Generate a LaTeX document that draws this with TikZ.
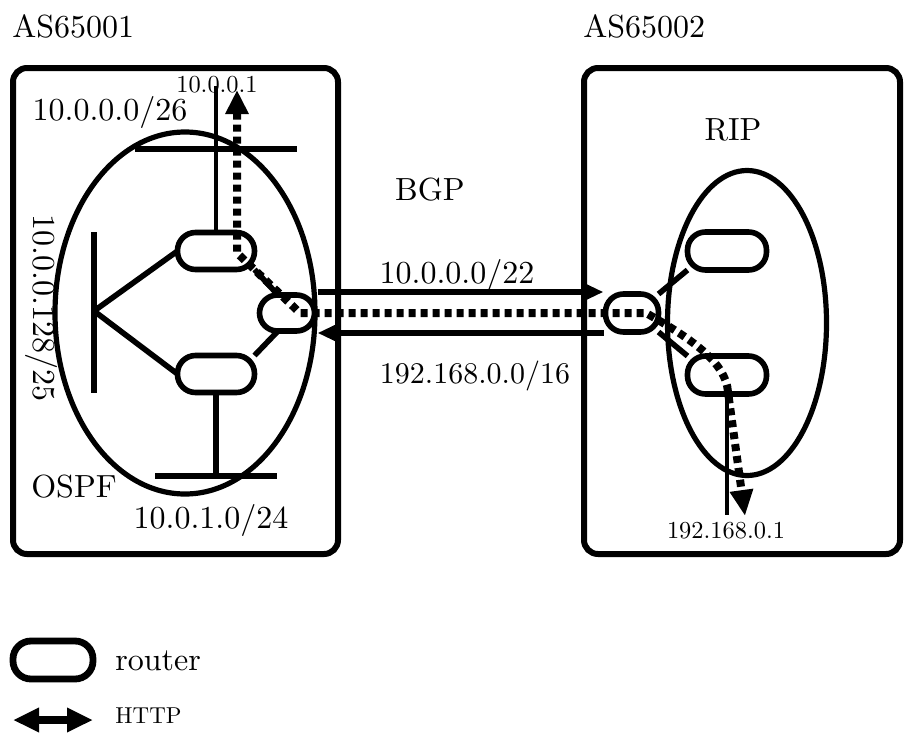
\documentclass[tikz,border=0pt]{standalone}
\usepackage{fontspec}
\setmainfont{lmroman10-regular.otf}
\usetikzlibrary{arrows.meta,calc,shapes.geometric}
\begin{document}
\begin{tikzpicture}[x=0.5pt,y=-0.5pt,
  asbox/.style={draw, line width=3pt, rounded corners=7pt},
  area/.style={draw, ellipse, line width=2.6pt, inner sep=0pt, outer sep=0pt},
  router/.style={draw, line width=2.8pt, rounded corners=9pt, inner sep=0pt, outer sep=0pt},
  bus/.style={line width=2.8pt},
  drop/.style={line width=1.8pt},
  bgp/.style={line width=2.6pt},
  http/.style={line width=4pt, dash pattern=on 3.5pt off 2.5pt},
  lbl/.style={font=\fontsize{16}{19}\selectfont, inner sep=0pt},
  sml/.style={font=\fontsize{12.2}{14}\selectfont, inner sep=0pt}]
\useasboundingbox (0,0) rectangle (904,734);

% AS boxes
\draw[asbox] (13,68) rectangle (338,554);
\draw[asbox] (584,68) rectangle (900,554);

% areas
\node[area, minimum width=130pt, minimum height=181pt] (ospf) at (185,313) {};
\node[area, minimum width=79.5pt, minimum height=152.5pt] (rip) at (747,323) {};

% routers
\node[router, minimum width=38.5pt, minimum height=18.5pt] (R1) at (216,251) {};
\node[router, minimum width=38.5pt, minimum height=18.5pt] (R3) at (216,374) {};
\node[router, minimum width=27.5pt, minimum height=18pt] (GL) at (287,313) {};
\node[router, minimum width=26.5pt, minimum height=19pt] (RG) at (632,313) {};
\node[router, minimum width=39.5pt, minimum height=19pt] (R5) at (727,251) {};
\node[router, minimum width=39.5pt, minimum height=19pt] (R6) at (727,375) {};

% left networks
\coordinate (tbL) at (135,149);
\coordinate (tbR) at (297,149);
\draw[bus] (tbL) -- (tbR);
\coordinate (ipA) at (216,86);
\draw[drop] (R1.north) -- (ipA);
\coordinate (lbT) at (94,232);
\coordinate (lbB) at (94,393);
\coordinate (lbM) at (94,311);
\draw[bus] (lbT) -- (lbB);
\draw[bus] (lbM) -- (R1.west);
\draw[bus] (lbM) -- (R3.west);
\coordinate (bbL) at (155,476);
\coordinate (bbR) at (277,476);
\draw[bus] (bbL) -- (bbR);
\draw[bus] (R3.south) -- (R3.south |- bbL);
\draw[bus] (R1.south east) -- ($(GL.center)+(-9,-18)$);
\draw[bus] (R3.north east) -- ($(GL.center)+(-9,18)$);

% right networks
\draw[bus] (RG.north east) -- (R5.south west);
\draw[bus] (RG.south east) -- (R6.north west);
\coordinate (ipB) at (727,515);
\draw[drop] (R6.south) -- (ipB);

% BGP announcements
\draw[bgp, -{Triangle[length=10pt,width=8.5pt]}] ($(GL.east)+(3,-21)$) -- ($(RG.west)+(-2,-21)$);
\draw[bgp, -{Triangle[length=10pt,width=8.5pt]}] ($(RG.west)+(-2,20)$) -- ($(GL.east)+(3,20)$);

% HTTP path
\coordinate (h1) at (237,90);
\coordinate (h2) at (237,253);
\coordinate (h3) at (300,313);
\coordinate (h4) at (646,313);
\coordinate (h5) at (728,392);
\coordinate (h6) at (745,516);
\draw[http, {Triangle[length=12pt,width=11pt]}-{Triangle[length=13pt,width=11pt]}]
  (h1) -- (h2) -- (h3) -- (h4) .. controls (690,338) and (726,362) .. (h5) -- (h6);

% labels
\node[lbl, anchor=base west] (as1) at (12,37) {AS65001};
\node[lbl, anchor=base west] (as2) at (583,37) {AS65002};
\node[sml, anchor=base] (ip1) at (217,92) {10.0.0.1};
\node[lbl, anchor=base] (n26) at (110,120) {10.0.0.0/26};
\node[lbl, rotate=-90] (n128) at (41,308) {10.0.0.128/25};
\node[lbl, anchor=base] (lospf) at (74,497) {OSPF};
\node[lbl, anchor=base] (n24) at (211,528) {10.0.1.0/24};
\node[lbl, anchor=base] (lbgp) at (430,200) {BGP};
\node[lbl, anchor=base] (n22) at (457,283) {10.0.0.0/22};
\node[lbl, font=\fontsize{15}{18}\selectfont, anchor=base] (n16) at (475,383) {192.168.0.0/16};
\node[lbl, anchor=base] (lrip) at (733,140) {RIP};
\node[sml, anchor=base] (ip2) at (726,538) {192.168.0.1};

% legend
\node[router, line width=3.4pt, minimum width=40pt, minimum height=19pt] (Lr) at (53,660) {};
\node[lbl, anchor=base west] (lrt) at (115,670) {router};
\coordinate (hl) at (13,720);
\coordinate (hr) at (93,720);
\draw[line width=4pt, {Triangle[length=13pt,width=11.5pt]}-{Triangle[length=13pt,width=11.5pt]}] (hl) -- (hr);
\node[font=\fontsize{11.5}{13}\selectfont, inner sep=0pt, anchor=base west] (lhttp) at (115,723) {HTTP};
\end{tikzpicture}
\end{document}
